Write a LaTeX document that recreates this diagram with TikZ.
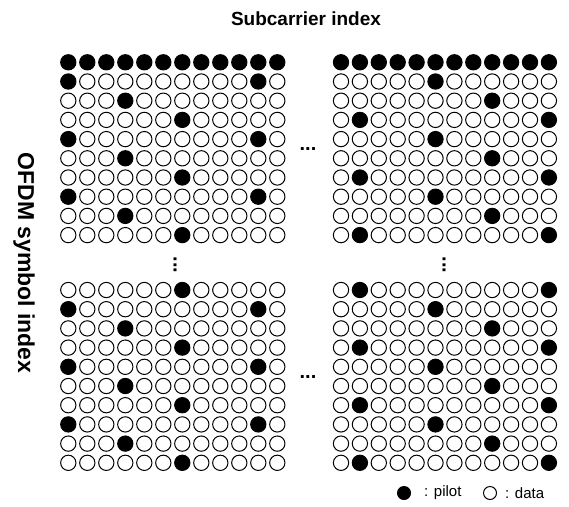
\documentclass[tikz,border=0pt]{standalone}
\usepackage{fontspec}
\setmainfont{Liberation Sans}
\begin{document}
\begin{tikzpicture}[x=1pt,y=-1pt,
  dot/.style={circle, draw=black, line width=1pt, minimum size=15.3pt, inner sep=0pt},
  pilot/.style={dot, fill=black},
  legdot/.style={circle, draw=black, line width=1pt, minimum size=13pt, inner sep=0pt},
  ttl/.style={font=\bfseries\fontsize{19}{23}\selectfont, inner sep=0pt},
  lbl/.style={font=\fontsize{15}{18}\selectfont, inner sep=0pt, anchor=west},
  ell/.style={font=\bfseries\fontsize{20}{22}\selectfont, inner sep=0pt}]
\useasboundingbox (0,0) rectangle (569,506);
% top-left grid
\foreach \i in {0,...,9} \foreach \j in {0,...,11} {
  \pgfmathtruncatemacro\p{mod(\i+2,3)}
  \pgfmathtruncatemacro\f{(\i==0) || (\p==0 && (\j==0 || \j==10)) || (\p==1 && \j==3) || (\p==2 && \j==6)}
  \ifnum\f=1 \node[pilot] (tl-\i-\j) at (68.3+19*\j, 62.3+19.2*\i) {};
  \else \node[dot] (tl-\i-\j) at (68.3+19*\j, 62.3+19.2*\i) {}; \fi
}
% top-right grid
\foreach \i in {0,...,9} \foreach \j in {0,...,11} {
  \pgfmathtruncatemacro\p{mod(\i+2,3)}
  \pgfmathtruncatemacro\f{(\i==0) || (\p==0 && \j==5) || (\p==1 && \j==8) || (\p==2 && (\j==1 || \j==11))}
  \ifnum\f=1 \node[pilot] (tr-\i-\j) at (341+18.9*\j, 62.3+19.2*\i) {};
  \else \node[dot] (tr-\i-\j) at (341+18.9*\j, 62.3+19.2*\i) {}; \fi
}
% bottom-left grid
\foreach \i in {0,...,9} \foreach \j in {0,...,11} {
  \pgfmathtruncatemacro\p{mod(\i+2,3)}
  \pgfmathtruncatemacro\f{(\p==0 && (\j==0 || \j==10)) || (\p==1 && \j==3) || (\p==2 && \j==6)}
  \ifnum\f=1 \node[pilot] (bl-\i-\j) at (68.3+19*\j, 290+19.2*\i) {};
  \else \node[dot] (bl-\i-\j) at (68.3+19*\j, 290+19.2*\i) {}; \fi
}
% bottom-right grid
\foreach \i in {0,...,9} \foreach \j in {0,...,11} {
  \pgfmathtruncatemacro\p{mod(\i+2,3)}
  \pgfmathtruncatemacro\f{(\p==0 && \j==5) || (\p==1 && \j==8) || (\p==2 && (\j==1 || \j==11))}
  \ifnum\f=1 \node[pilot] (br-\i-\j) at (341+18.9*\j, 290+19.2*\i) {};
  \else \node[dot] (br-\i-\j) at (341+18.9*\j, 290+19.2*\i) {}; \fi
}
% ellipses
\node[ell] (hd1) at (308,149) {...};
\node[ell] (hd2) at (308,377) {...};
\node[ell, rotate=-90] (vd1) at (175,265) {...};
\node[ell, rotate=-90] (vd2) at (444,265) {...};
% titles
\node[ttl] (title) at (306,19) {Subcarrier index};
\node[ttl, font=\bfseries\fontsize{23}{27}\selectfont, rotate=-90] (ylab) at (24,263) {OFDM symbol index};
% legend
\node[legdot, fill=black] (lp) at (404,493) {};
\node[lbl] (lpt) at (424,493) {: pilot};
\node[legdot] (ld) at (490,493) {};
\node[lbl] (ldt) at (505,493) {: data};
\end{tikzpicture}
\end{document}
